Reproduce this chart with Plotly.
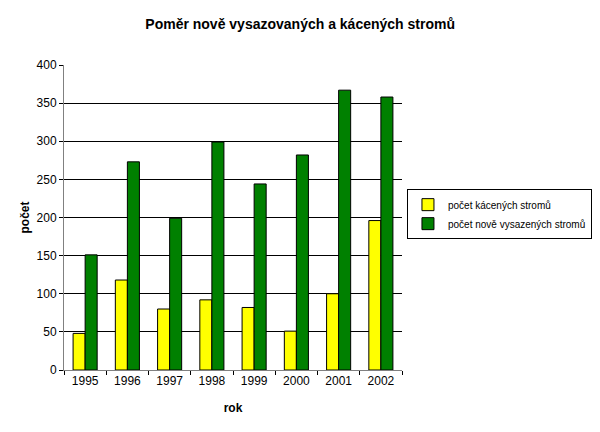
import plotly.graph_objects as go

years = ["1995", "1996", "1997", "1998", "1999", "2000", "2001", "2002"]
kacene = [48, 118, 80, 92, 82, 51, 100, 196]
vysazene = [151, 273, 199, 299, 244, 282, 367, 358]
y_ticks = [0, 50, 100, 150, 200, 250, 300, 350, 400]
grid_vals = [50, 100, 150, 200, 250, 300, 350]

fig = go.Figure()
fig.add_trace(go.Bar(x=years, y=kacene, name="počet kácených stromů",
                     marker=dict(color="#FFFF00", line=dict(color="black", width=1))))
fig.add_trace(go.Bar(x=years, y=vysazene, name="počet nově vysazených stromů",
                     marker=dict(color="#008000", line=dict(color="black", width=1))))
# invisible helper trace that carries the gridline axis
fig.add_trace(go.Scatter(x=years, y=[None] * len(years), yaxis="y2",
                         showlegend=False, hoverinfo="skip", mode="lines"))

fig.update_layout(
    width=592, height=424,
    margin=dict(l=56, r=198, t=57, b=62, autoexpand=False),
    paper_bgcolor="white", plot_bgcolor="white",
    font=dict(family="Arial, Liberation Sans, sans-serif", size=12, color="black"),
    title=dict(text="<b>Poměr nově vysazovaných a kácených stromů</b>",
               x=0.4935, xanchor="center", y=0.962, yanchor="middle",
               font=dict(size=14, color="black")),
    barmode="group", bargap=0.43, bargroupgap=0,
    legend=dict(x=1.562, y=0.511, xanchor="right", yanchor="middle",
                bordercolor="black", borderwidth=1, bgcolor="white",
                font=dict(size=10), tracegroupgap=0, itemwidth=30),
    showlegend=True,
    yaxis2=dict(overlaying="y", range=[0, 400], tickvals=grid_vals,
                showticklabels=False, ticks="", showgrid=True,
                gridcolor="black", gridwidth=1, zeroline=False, showline=False),
)
fig.update_xaxes(
    title=dict(text="<b>rok</b>", font=dict(size=12), standoff=16),
    showline=True, linecolor="#808080", linewidth=1,
    ticks="outside", tickson="boundaries", ticklen=4, tickcolor="black",
    showgrid=False,
)
fig.update_layout(yaxis=dict(
    title=dict(text="<b>počet</b>", font=dict(size=12), standoff=4),
    range=[0, 400], tickvals=y_ticks,
    showline=True, linecolor="#808080", linewidth=1,
    ticks="outside", ticklen=4, tickcolor="black",
    showgrid=False, zeroline=False,
))
fig.write_html("out.html")
